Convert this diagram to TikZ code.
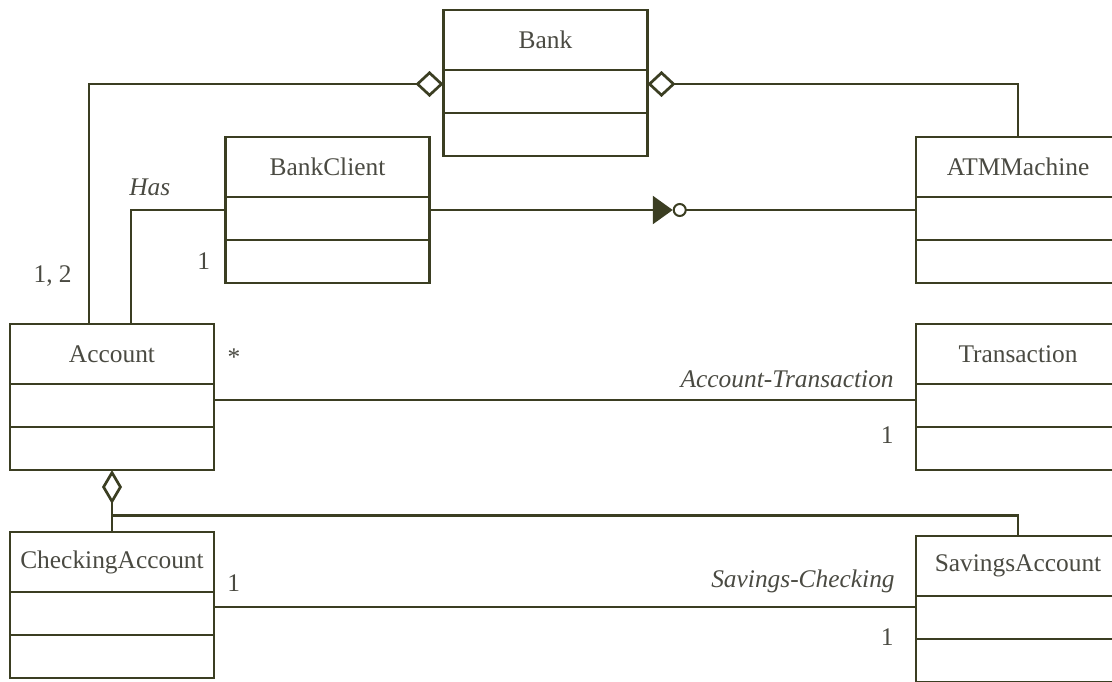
\documentclass[tikz,border=0pt]{standalone}
\usepackage{fontspec}
\setmainfont{Liberation Serif}
\usetikzlibrary{positioning,arrows.meta,calc}
\definecolor{umlline}{HTML}{3B3E22}
\definecolor{umltext}{HTML}{4A4A42}
\newcommand{\clsfont}{\fontsize{12.7}{15}\selectfont}
\newcommand{\rolefont}{\fontsize{12.7}{15}\selectfont\itshape}
% a class box: name, position, title
\newcommand{\umlclass}[3]{%
    \node[cls] (#1) at (#2) {#3};
    \node[comp,below=0pt of #1] (#1-a) {};
    \node[comp,below=0pt of #1-a] (#1-o) {};
}
\tikzset{
    cls/.style={draw=umlline,line width=1.35pt,outer sep=0pt,inner sep=0pt,minimum width=102pt,minimum height=30pt,font=\clsfont,text=umltext},
    comp/.style={draw=umlline,line width=1.35pt,outer sep=0pt,inner sep=0pt,minimum width=102pt,minimum height=21.5pt},
    assoc/.style={draw=umlline,line width=1.35pt},
    agg/.style={assoc,{Diamond[open,length=14pt,width=13pt]}-},
    role/.style={font=\rolefont,text=umltext,inner sep=0pt},
    mult/.style={font=\clsfont,text=umltext,inner sep=0pt},
}

\begin{document}
\begin{tikzpicture}[x=0.5pt,y=-0.5pt]
    \useasboundingbox (0,0) rectangle (1112,681);

    \umlclass{Bank}{545.5,40}{Bank}
    \umlclass{BankClient}{327.5,167}{BankClient}
    \umlclass{ATMMachine}{1018,167}{ATMMachine}
    \umlclass{Account}{112,354}{Account}
    \umlclass{Transaction}{1018,354}{Transaction}
    \umlclass{CheckingAccount}{112,562}{CheckingAccount}
    \umlclass{SavingsAccount}{1018,566}{SavingsAccount}

    \coordinate (bankL) at ([yshift=3.75pt]Bank-a.west);
    \coordinate (bankR) at ([yshift=3.75pt]Bank-a.east);
    \coordinate (bcL) at ([yshift=4.25pt]BankClient-a.west);
    \coordinate (bcR) at ([yshift=4.25pt]BankClient-a.east);
    \coordinate (atmL) at (bcR -| ATMMachine-a.west);
    \coordinate (accL) at ([xshift=-11.5pt]Account.north);
    \coordinate (accR) at ([xshift=9.5pt]Account.north);
    \coordinate (accE) at ([yshift=2.75pt]Account-a.east);
    \coordinate (trnW) at (accE -| Transaction-a.west);
    \coordinate (chkE) at ([yshift=3.25pt]CheckingAccount-a.east);
    \coordinate (savW) at (chkE -| SavingsAccount-a.west);
    \coordinate (nav) at ($(bcR)!0.5!(atmL)$);
    \coordinate (split) at ($(Account-o.south)!0.73!(CheckingAccount.north)$);

    \draw[agg] (bankL) -| node[mult,pos=1,anchor=base east,xshift=-8pt,yshift=21pt] {1, 2} (accL);
    \draw[agg] (bankR) -| (ATMMachine.north);
    \draw[assoc] (bcL) -| node[role,pos=0.5,anchor=south west,xshift=-1.5pt,yshift=6.5pt] {Has} (accR);
    \node[mult,left=7.5pt of BankClient-o] (hasM) {1};

    \draw[assoc,-{Triangle[length=10pt,width=14pt]}] (bcR) -- (nav);
    \draw[assoc,{Circle[open,length=7pt,width=7pt,line width=1pt]}-] (nav) -- (atmL);

    \draw[assoc] (accE) -- node[mult,pos=0,anchor=center,xshift=10pt,yshift=21.5pt] {*}
        node[role,pos=1,anchor=base east,xshift=-10.5pt,yshift=6.5pt] {Account-Transaction}
        node[mult,pos=1,anchor=north east,xshift=-10.5pt,yshift=-12.5pt] {1} (trnW);

    \draw[assoc,{Diamond[open,length=17pt,width=10pt]}-] (Account-o.south) -- (CheckingAccount.north);
    \draw[assoc] (split) -| (SavingsAccount.north);

    \draw[assoc] (chkE) -- node[mult,pos=0,anchor=south west,xshift=6pt,yshift=7pt] {1}
        node[role,pos=1,anchor=base east,xshift=-10pt,yshift=10pt] {Savings-Checking}
        node[mult,pos=1,anchor=north east,xshift=-10.5pt,yshift=-10pt] {1} (savW);
\end{tikzpicture}
\end{document}
